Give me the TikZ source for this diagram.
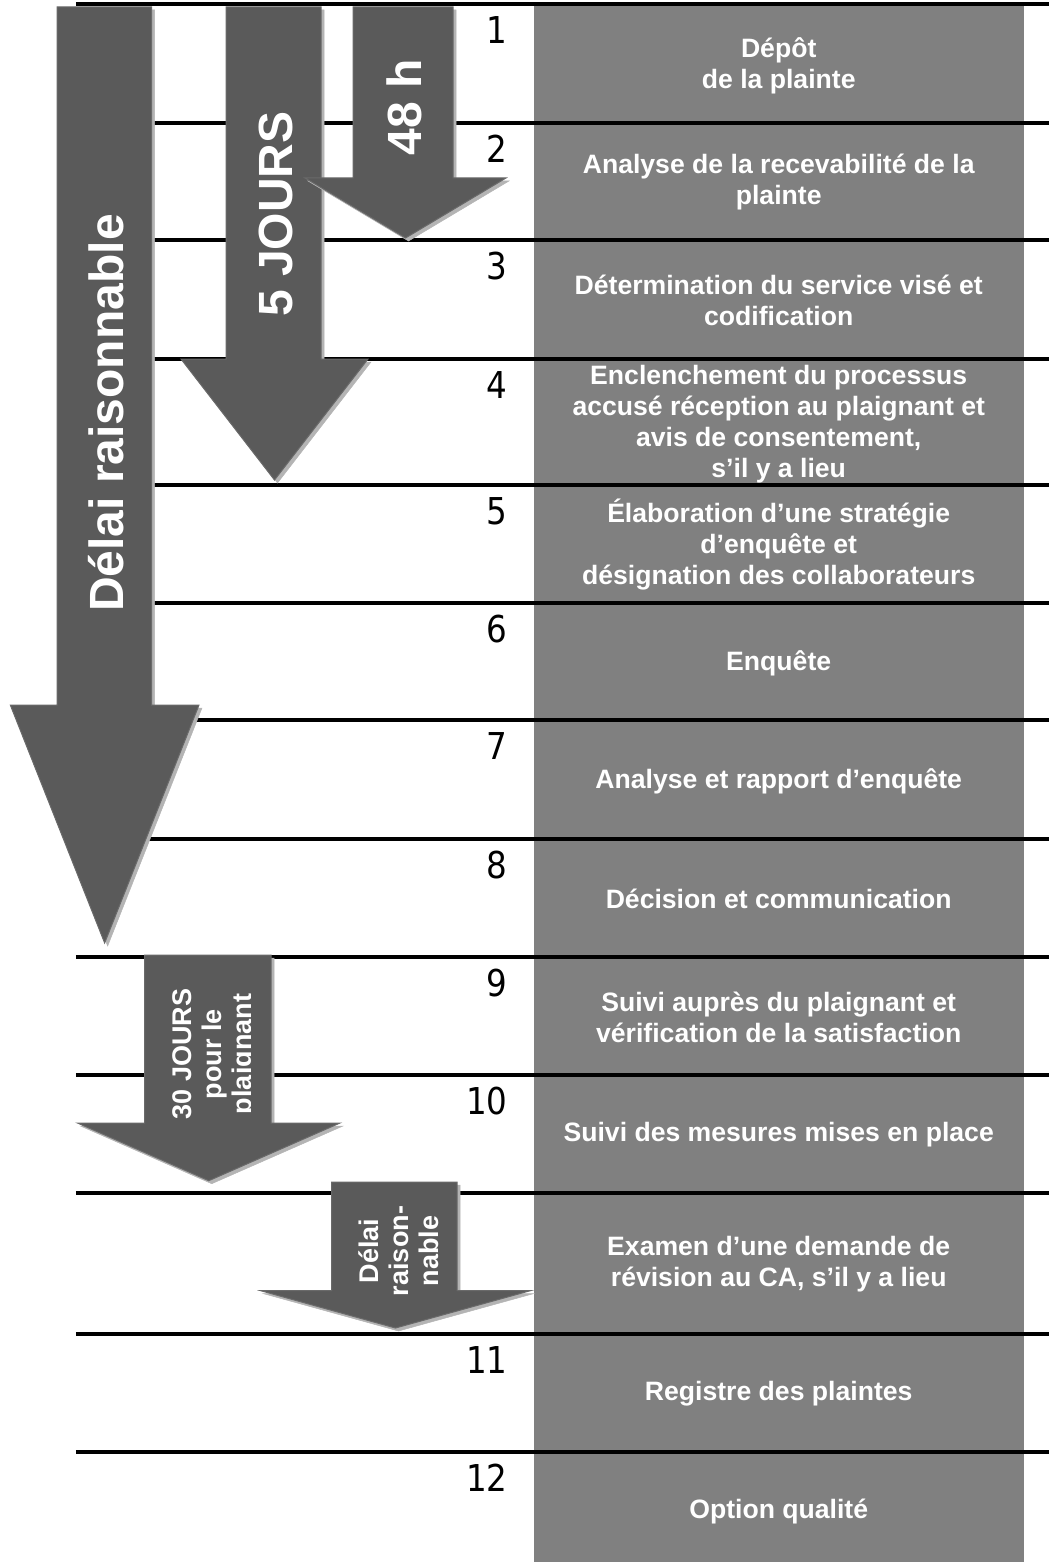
\documentclass[tikz,border=0pt]{standalone}
\usepackage{fontspec}
\setmainfont{Liberation Sans}
\newfontfamily\chiffres[FakeStretch=0.88]{DejaVu Sans}

\definecolor{colonnegris}{HTML}{808080}
\definecolor{flechegris}{HTML}{5A5A5A}
\definecolor{flechebord}{HTML}{6A6A6A}
\definecolor{ombregris}{HTML}{B4B4B4}

% flèche vers le bas : x gauche, x droite, haut, début de la pointe,
% x gauche de la pointe, x droite de la pointe, bout
\newcommand{\flechebas}[7]{%
  \filldraw[ombre, shift={(3,3)}] (#1,#3) -- (#2,#3) -- (#2,#4) -- (#6,#4) -- ({(#5+#6)/2},#7) -- (#5,#4) -- (#1,#4) -- cycle;
  \filldraw[fleche] (#1,#3) -- (#2,#3) -- (#2,#4) -- (#6,#4) -- ({(#5+#6)/2},#7) -- (#5,#4) -- (#1,#4) -- cycle;
}

\begin{document}
\begin{tikzpicture}[x=1pt, y=-1pt,
        ligne/.style={line width=4pt},
        colonne/.style={fill=colonnegris},
        etape/.style={text=white, align=center, font=\bfseries\fontsize{26.6}{31}\selectfont},
        numero/.style={anchor=east, font=\chiffres\fontsize{37}{40}\selectfont},
        ombre/.style={fill=ombregris, draw=ombregris, line width=0.5pt},
        fleche/.style={fill=flechegris, draw=flechebord, line width=1pt},
        grand/.style={text=white, rotate=90, font=\bfseries\fontsize{48}{50}\selectfont},
        petit/.style={text=white, rotate=90, align=center, font=\bfseries\fontsize{27}{30}\selectfont}
    ]

        \useasboundingbox (0,0) rectangle (1049,1562);

        % Colonne des étapes
        \fill[colonne] (533.5,5) rectangle (1024,1562);

        % Lignes de séparation
        \foreach \y in {4,123,240,358.7,485,603,720,838.7,956.7,1074.7,1192.7,1333.5,1451.7}
            \draw[ligne] (75.8,\y) -- (1049,\y);

        % Étapes
        \node[etape] (e1) at (778.7,66) {Dépôt\\de la plainte};
        \node[etape] (e2) at (778.7,182) {Analyse de la recevabilité de la\\plainte};
        \node[etape] (e3) at (778.7,300) {Détermination du service visé et\\codification};
        \node[etape] (e4) at (778.7,424) {Enclenchement du processus\\accusé réception au plaignant et\\avis de consentement,\\s’il y a lieu};
        \node[etape] (e5) at (778.7,545) {Élaboration d’une stratégie\\d’enquête et\\désignation des collaborateurs};
        \node[etape] (e6) at (778.7,663) {Enquête};
        \node[etape] (e7) at (778.7,781) {Analyse et rapport d’enquête};
        \node[etape] (e8) at (778.7,899) {Décision et communication};
        \node[etape] (e9) at (778.7,1017) {Suivi auprès du plaignant et\\vérification de la satisfaction};
        \node[etape] (e10) at (778.7,1135) {Suivi des mesures mises en place};
        \node[etape] (e10b) at (778.7,1264) {Examen d’une demande de\\révision au CA, s’il y a lieu};
        \node[etape] (e11) at (778.7,1394) {Registre des plaintes};
        \node[etape] (e12) at (778.7,1511) {Option qualité};

        % Numéros
        \foreach \n/\y in {1/30,2/149,3/266,4/384.7,5/511,6/629,7/746,8/864.7,9/982.7,10/1100.7,11/1359.5,12/1477.7}
            \node[numero] (n\n) at (511,\y) {\n};

        % Flèches de délai
        \flechebas{57}{151.5}{7}{705}{10.3}{199}{943}
        \node[grand] (delai) at (106,413) {Délai raisonnable};

        \flechebas{226}{321}{7}{359}{181}{368}{480}
        \node[grand] (cinqjours) at (275.5,214) {5 JOURS};

        \flechebas{353}{453}{7}{178}{305}{506}{238}
        \node[grand] (quarantehuit) at (404,107) {48 h};

        \flechebas{144.6}{271}{955}{1123}{77.5}{340}{1180.7}
        \begin{scope}
            \clip (140,950) rectangle (250.5,1130);
            \node[petit] (trentejours) at (215,1054) {30 JOURS\\pour le\\plaignant};
        \end{scope}

        \flechebas{331.6}{457}{1182}{1290.7}{260.7}{530.3}{1328}
        \node[petit] (revision) at (398.8,1251) {Délai\\raison-\\nable};

    \end{tikzpicture}
\end{document}
